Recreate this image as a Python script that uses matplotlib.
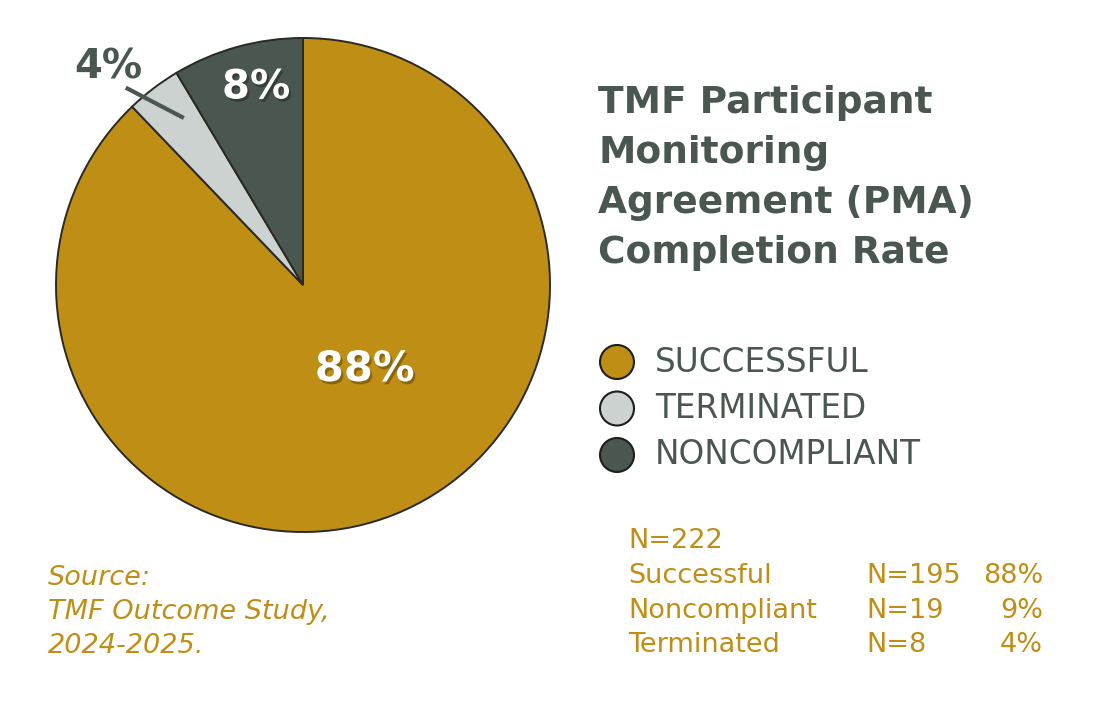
import matplotlib.pyplot as plt
import matplotlib.patheffects as pe
from matplotlib.patches import Circle

# -----------------------------
# Data
# -----------------------------
categories = ["SUCCESSFUL", "TERMINATED", "NONCOMPLIANT"]
counts = [195, 8, 19]
pie_labels = ["88%", "4%", "8%"]
table_names = ["Successful", "Noncompliant", "Terminated"]
table_n = ["N=195", "N=19", "N=8"]
table_pct = ["88%", "9%", "4%"]
total_label = "N=222"
title_lines = ["TMF Participant", "Monitoring", "Agreement (PMA)", "Completion Rate"]
source_lines = ["Source:", "TMF Outcome Study,", "2024-2025."]

colors = ["#BF8E14", "#CCD2CF", "#4A5750"]
dark = "#4A5750"
gold = "#BF8E16"

W, H = 1106, 713
fig = plt.figure(figsize=(W / 100, H / 100), dpi=100)
fig.patch.set_facecolor("white")

# -----------------------------
# Pie
# -----------------------------
cx, cy, r = 303, 285, 247
ax = fig.add_axes([(cx - r) / W, (H - cy - r) / H, 2 * r / W, 2 * r / H])
wedges, _ = ax.pie(counts, colors=colors, startangle=90, counterclock=False,
                   wedgeprops=dict(edgecolor="#2a2a22", linewidth=1.4))
ax.set_xlim(-1, 1)
ax.set_ylim(-1, 1)
ax.set_aspect("equal")

soft = [pe.SimplePatchShadow(offset=(1.5, -2), shadow_rgbFace="black", alpha=0.28),
        pe.Normal()]
ax.text(0.25, -0.34, pie_labels[0], color="white", fontsize=30, fontweight="bold",
        ha="center", va="center", path_effects=soft)
ax.text(-0.19, 0.80, pie_labels[2], color="white", fontsize=29, fontweight="bold",
        ha="center", va="center", path_effects=soft)
ax.text(-0.79, 0.88, pie_labels[1], color=dark, fontsize=29, fontweight="bold",
        ha="center", va="center")
ax.plot([-0.71, -0.49], [0.795, 0.68], color=dark, linewidth=3, clip_on=False)

# -----------------------------
# Overlay axes in pixel coords
# -----------------------------
ov = fig.add_axes([0, 0, 1, 1])
ov.set_xlim(0, W)
ov.set_ylim(H, 0)
ov.axis("off")
ov.patch.set_alpha(0)

for i, line in enumerate(title_lines):
    ov.text(598, 103 + i * 50, line, color=dark, fontsize=27, fontweight="bold",
            ha="left", va="center")

for i, (cat, col) in enumerate(zip(categories, colors)):
    y = 362 + i * 46.5
    ov.add_patch(Circle((617, y), 17, facecolor=col, edgecolor="#1e1e1a", linewidth=1.5))
    ov.text(655, y, cat, color=dark, fontsize=23.5, ha="left", va="center")

fs = 19.5
ov.text(628, 541, total_label, color=gold, fontsize=fs, ha="left", va="center")
for i in range(len(table_names)):
    y = 576 + i * 34.5
    ov.text(628, y, table_names[i], color=gold, fontsize=fs, ha="left", va="center")
    ov.text(866, y, table_n[i], color=gold, fontsize=fs, ha="left", va="center")
    ov.text(1043, y, table_pct[i], color=gold, fontsize=fs, ha="right", va="center")

for i, line in enumerate(source_lines):
    ov.text(48, 578 + i * 34, line, color=gold, fontsize=fs, style="italic",
            ha="left", va="center")

fig.savefig("out.png", dpi=100, facecolor="white")
